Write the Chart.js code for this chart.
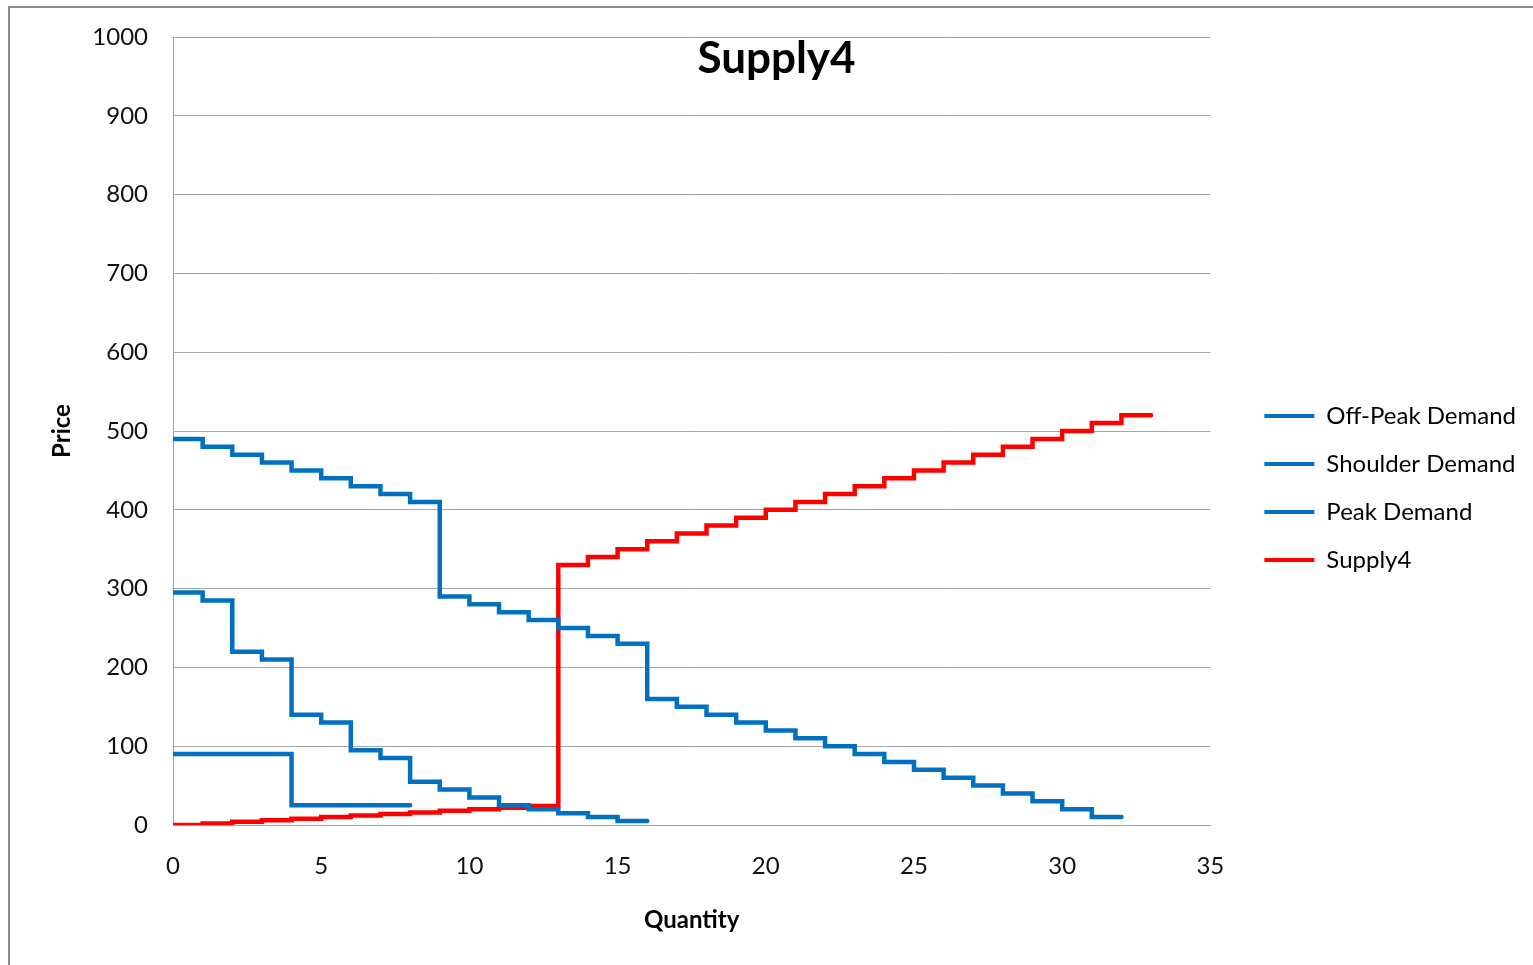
<!DOCTYPE html>
<html>
  <head>
    <meta charset="utf-8">
    <title>Supply4</title>
    <style>
      body { margin: 0; background: #fff; overflow: hidden; }
      #frame { position: absolute; left: 8px; top: 6px; width: 1600px; height: 1000px; border: 2px solid #8c8c8c; }
      #wrap { position: absolute; left: 0; top: 0; width: 1533px; height: 965px; }
    </style>
  </head>
  <body>
    <div id="frame"></div>
    <div id="wrap"><canvas id="MyCanvas"></canvas></div>
    <script src="https://cdn.jsdelivr.net/npm/chart.js@4.4.0/dist/chart.umd.min.js"></script>
    <script>
      // step values, one per unit of quantity starting at 0
      const offPeak = [90, 90, 90, 90, 25, 25, 25, 25];
      const shoulder = [295, 285, 220, 210, 140, 130, 95, 85, 55, 45, 35, 25, 20, 15, 10, 5];
      const peak = [490, 480, 470, 460, 450, 440, 430, 420, 410, 290, 280, 270, 260, 250, 240, 230,
                    160, 150, 140, 130, 120, 110, 100, 90, 80, 70, 60, 50, 40, 30, 20, 10];
      const supply = [0, 2, 4, 6, 8, 10, 12, 14, 16, 18, 20, 22, 24, 330, 340, 350, 360, 370, 380, 390,
                      400, 410, 420, 430, 440, 450, 460, 470, 480, 490, 500, 510, 520];
      const xTicks = [0, 5, 10, 15, 20, 25, 30, 35];
      const yTicks = [0, 100, 200, 300, 400, 500, 600, 700, 800, 900, 1000];

      const blue = '#0070C0';
      const red = '#FF0000';
      const font = 'Lato';

      // each value covers [i, i+1], so add the end point of the last step
      function steps(vals) {
        const pts = vals.map((v, i) => ({x: i, y: v}));
        pts.push({x: vals.length, y: vals[vals.length - 1]});
        return pts;
      }

      function line(label, vals, color) {
        return {
          label: label,
          data: steps(vals),
          borderColor: color,
          backgroundColor: color,
          borderWidth: 4.5,
          stepped: 'before',
          pointRadius: 0,
          fill: false,
          borderCapStyle: 'round'
        };
      }

      const titlePlugin = {
        id: 'chartTitle',
        afterDraw(chart) {
          const ctx = chart.ctx;
          ctx.save();
          ctx.font = 'bold 44px ' + font;
          ctx.fillStyle = '#000';
          ctx.textAlign = 'center';
          ctx.textBaseline = 'middle';
          ctx.fillText('Supply4', chart.width / 2 + 10, chart.chartArea.top + 22);
          ctx.restore();
        }
      };

      var ctx = document.getElementById("MyCanvas").getContext('2d');
      var myChart = new Chart(ctx, {
        type: 'line',
        data: {
          datasets: [
            line('Off-Peak Demand', offPeak, blue),
            line('Shoulder Demand', shoulder, blue),
            line('Peak Demand', peak, blue),
            line('Supply4', supply, red)
          ]
        },
        plugins: [titlePlugin],
        options: {
          responsive: true,
          maintainAspectRatio: false,
          animation: false,
          layout: { padding: { left: 44, top: 37, bottom: 26, right: 7 } },
          plugins: {
            legend: {
              position: 'right',
              maxWidth: 292,
              labels: {
                boxWidth: 50,
                boxHeight: 4,
                padding: 24,
                color: '#111',
                font: { family: font, size: 24 },
                generateLabels(chart) {
                  return chart.data.datasets.map((ds, i) => ({
                    text: ds.label,
                    fillStyle: ds.borderColor,
                    strokeStyle: ds.borderColor,
                    lineWidth: 0,
                    hidden: false,
                    datasetIndex: i
                  }));
                }
              }
            },
            tooltip: { enabled: false }
          },
          scales: {
            x: {
              type: 'linear',
              min: 0,
              max: 35,
              afterBuildTicks(s) { s.ticks = xTicks.map(v => ({value: v})); },
              afterFit(s) { s.height = 114; },
              grid: { display: false },
              border: { color: '#a0a0a0', width: 1 },
              ticks: { color: '#111', padding: 19, font: { family: font, size: 24 }, callback: v => String(v) },
              title: { display: true, text: 'Quantity', color: '#000', font: { family: font, size: 24, weight: 'bold' } }
            },
            y: {
              min: 0,
              max: 1000,
              afterBuildTicks(s) { s.ticks = yTicks.map(v => ({value: v})); },
              afterFit(s) { s.width = 129; },
              grid: { color: '#a6a6a6', lineWidth: 1, tickLength: 25, tickColor: 'rgba(0,0,0,0)' },
              border: { color: '#a0a0a0', width: 1 },
              ticks: { color: '#111', padding: 0, font: { family: font, size: 24 }, callback: v => String(v) },
              title: { display: true, text: 'Price', color: '#000', font: { family: font, size: 24, weight: 'bold' } }
            },
            gap: {
              type: 'linear',
              position: 'right',
              display: true,
              afterFit(s) { s.width = 30; },
              grid: { display: false },
              border: { display: false },
              ticks: { display: false }
            }
          }
        }
      });
    </script>
  </body>
</html>
